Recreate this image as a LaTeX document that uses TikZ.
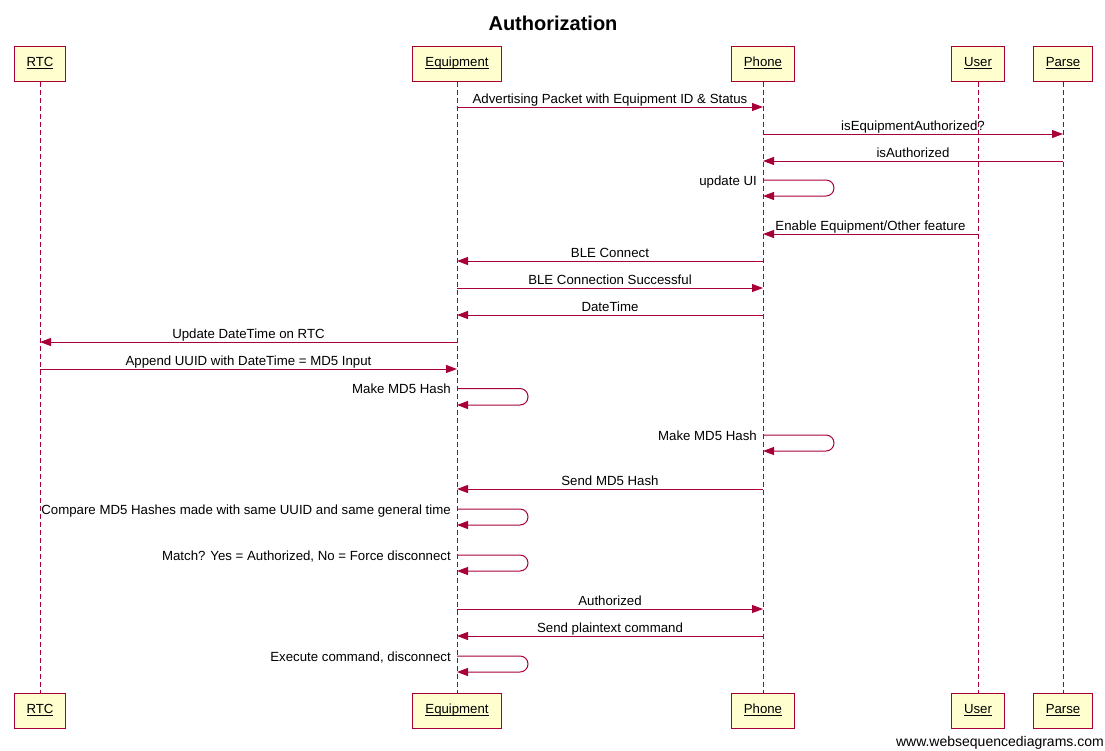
\documentclass[tikz,border=0pt]{standalone}
\usepackage{fontspec}
\setmainfont{Liberation Sans}
\usetikzlibrary{arrows.meta}
\definecolor{wsd}{HTML}{A80036}
\definecolor{boxfill}{HTML}{FEFECE}
\newcommand\ulab[1]{\underline{\smash{#1}}}
\newcommand\selfcall[4]{%
  \draw[msg, rounded corners=8pt] (#1 |- 0,#2) -- ++(71,0) |- (#1 |- 0,#3);
  \node[slbl] at ([xshift=-6pt]#1 |- 0,#2+5) {#4};}
\newcommand\msgcall[4]{%
  \draw[msg] (#1 |- 0,#3) -- (#2 |- 0,#3);
  \path (#1 |- 0,#3) -- node[lbl, pos=0.5, yshift=3.5pt] {#4} (#2 |- 0,#3);}
\begin{document}
\begin{tikzpicture}[x=1pt,y=-1pt,
  actor/.style={draw=wsd, fill=boxfill, line width=1pt, minimum height=35pt,
    inner xsep=12.5pt, inner ysep=0pt, text height=9.5pt, text depth=3pt,
    font=\fontsize{13.2}{15}\selectfont},
  life/.style={draw=wsd, dash pattern=on 5pt off 3pt, line width=1pt},
  msg/.style={color=wsd, line width=1pt, -{Triangle[length=11pt,width=8pt]}},
  lbl/.style={text=black, font=\fontsize{13.25}{15}\selectfont, inner sep=0pt, anchor=base},
  slbl/.style={text=black, font=\fontsize{13.25}{15}\selectfont, inner sep=0pt, anchor=base east},
]
\useasboundingbox (0,0) rectangle (1105,750);
\node[font=\bfseries\fontsize{20}{24}\selectfont, anchor=base] (title) at (553,30) {Authorization};

\node[actor] (rtcT) at (40,63.5) {\ulab{RTC}};
\node[actor] (eqT) at (457,63.5) {\ulab{Equipment}};
\node[actor] (phT) at (763,63.5) {\ulab{Phone}};
\node[actor] (usT) at (978,63.5) {\ulab{User}};
\node[actor] (paT) at (1063,63.5) {\ulab{Parse}};

\node[actor] (rtcB) at (40,710.5) {\ulab{RTC}};
\node[actor] (eqB) at (457,710.5) {\ulab{Equipment}};
\node[actor] (phB) at (763,710.5) {\ulab{Phone}};
\node[actor] (usB) at (978,710.5) {\ulab{User}};
\node[actor] (paB) at (1063,710.5) {\ulab{Parse}};

\draw[life] (rtcT) -- (rtcB);
\draw[life] (eqT) -- (eqB);
\draw[life] (phT) -- (phB);
\draw[life] (usT) -- (usB);
\draw[life] (paT) -- (paB);

\msgcall{eqT}{phT}{107}{Advertising Packet with Equipment ID \& Status}
\msgcall{phT}{paT}{134}{isEquipmentAuthorized?}
\msgcall{paT}{phT}{161}{isAuthorized}
\selfcall{phT}{180}{196}{update UI}
\msgcall{usT}{phT}{234}{Enable Equipment/Other feature}
\msgcall{phT}{eqT}{261}{BLE Connect}
\msgcall{eqT}{phT}{288}{BLE Connection Successful}
\msgcall{phT}{eqT}{315}{DateTime}
\msgcall{eqT}{rtcT}{342}{Update DateTime on RTC}
\msgcall{rtcT}{eqT}{369}{Append UUID with DateTime = MD5 Input}
\selfcall{eqT}{388.5}{405}{Make MD5 Hash}
\selfcall{phT}{435}{451}{Make MD5 Hash}
\msgcall{phT}{eqT}{489}{Send MD5 Hash}
\selfcall{eqT}{509}{525}{Compare MD5 Hashes made with same UUID and same general time}
\selfcall{eqT}{555}{571}{Match? Yes = Authorized, No = Force disconnect}
\msgcall{eqT}{phT}{609}{Authorized}
\msgcall{phT}{eqT}{636}{Send plaintext command}
\selfcall{eqT}{656}{672}{Execute command, disconnect}

\node[font=\fontsize{14}{16}\selectfont, inner sep=0pt, anchor=base east] (footer) at (1104,746) {www.websequencediagrams.com};
\end{tikzpicture}
\end{document}
